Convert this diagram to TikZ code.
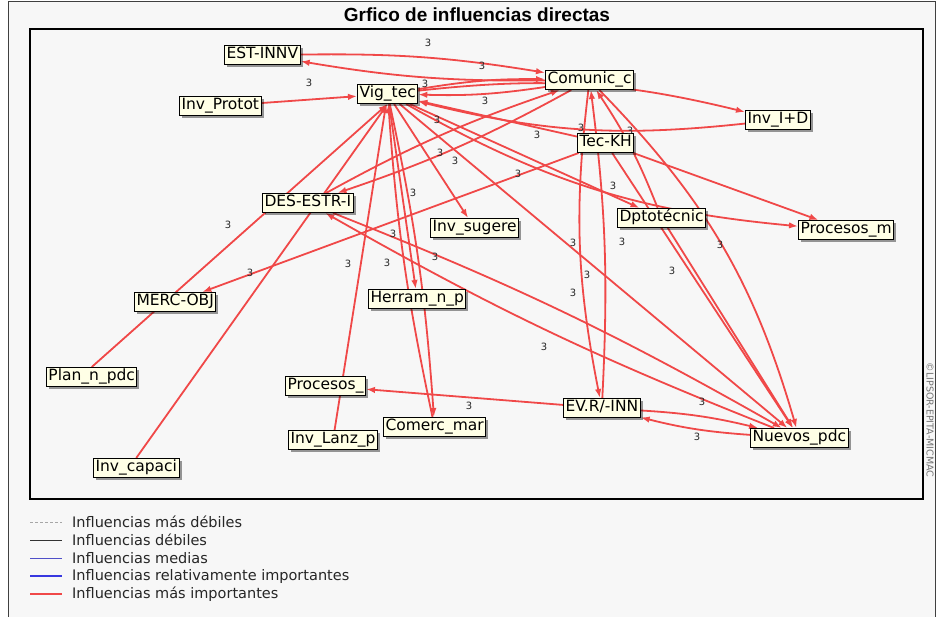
\documentclass[tikz,border=0pt]{standalone}
\usepackage{fontspec}
\setmainfont{DejaVu Sans}
\newfontfamily\titlefont{Liberation Sans}
\usetikzlibrary{arrows.meta,shadows}
\definecolor{edgered}{HTML}{F04848}
\definecolor{boxfill}{HTML}{FFFFE6}
\definecolor{plotbg}{HTML}{F7F7F7}
\definecolor{midblue}{HTML}{5050C8}
\definecolor{strongblue}{HTML}{3838E0}
\pgfdeclarelayer{bg}
\pgfdeclarelayer{edges}
\pgfsetlayers{bg,edges,main}
\begin{document}
\begin{tikzpicture}[x=1pt,y=-1pt,
  var/.style={draw=black,line width=1pt,fill=boxfill,anchor=west,
    inner xsep=2pt,inner ysep=2pt,text height=11.5pt,text depth=3.5pt,
    font=\fontsize{15.5}{17}\selectfont,
    drop shadow={shadow xshift=2.5pt,shadow yshift=-2.5pt,fill=black,opacity=0.4}},
  infl/.style={draw=edgered,line width=1.8pt,-{Latex[length=9pt,width=6.5pt]}},
  wt/.style={font=\fontsize{10}{10}\selectfont,text=black!85,inner sep=0pt},
  leg/.style={font=\fontsize{14.5}{16}\selectfont,anchor=west,inner sep=0pt,text=black!85}
]
\useasboundingbox (0,0) rectangle (938,617);

% page and plot area
\begin{pgfonlayer}{bg}
  \fill[white] (0,0) rectangle (938,617);
  \fill[plotbg] (8,2) rectangle (935,617);
  \draw[black!75,line width=1pt] (8,617) -- (8,2) -- (935,2) -- (935,617);
  \draw[black,line width=1.2pt] (30,29) rectangle (923,499);
\end{pgfonlayer}

\node[font=\titlefont\bfseries\fontsize{19}{21}\selectfont] (title) at (477,15) {Grfico de influencias directas};
\node[rotate=-90,font=\fontsize{9.5}{10}\selectfont,text=black!55,inner sep=0pt] (copy) at (930,420) {\copyright LIPSOR-EPITA-MICMAC};

% variables
\node[var] (est)  at (224,55)  {EST-INNV};
\node[var] (prot) at (179,106) {Inv\_Protot};
\node[var] (vig)  at (357,94)  {Vig\_tec};
\node[var] (com)  at (545,80)  {Comunic\_c};
\node[var] (iid)  at (745,120) {Inv\_I+D};
\node[var] (tec)  at (577,143) {Tec-KH};
\node[var] (des)  at (262,203) {DES-ESTR-I};
\node[var] (sug)  at (430,228) {Inv\_sugere};
\node[var] (dpt)  at (617,218) {Dptotécnic};
\node[var] (prm)  at (798,230) {Procesos\_m};
\node[var] (merc) at (134,302) {MERC-OBJ};
\node[var] (her)  at (368,299) {Herram\_n\_p};
\node[var] (plan) at (46,377)  {Plan\_n\_pdc};
\node[var] (pro)  at (285,386) {Procesos\_};
\node[var] (ev)   at (563,408) {EV.R/-INN};
\node[var] (cm)   at (383,427) {Comerc\_mar};
\node[var] (lanz) at (288,440) {Inv\_Lanz\_p};
\node[var] (nue)  at (750,438) {Nuevos\_pdc};
\node[var] (cap)  at (93,468)  {Inv\_capaci};

% influences
\begin{pgfonlayer}{edges}
  \draw[infl] (est) to[bend left=5] (com);
  \draw[infl] (com) to[bend left=5] (est);
  \draw[infl] (prot) -- (vig);
  \draw[infl] (com) to[bend left=5] (vig);
  \draw[infl] (vig) to[bend left=5] (com);
  \draw[infl] (vig) to[bend left=10] (iid);
  \draw[infl] (iid) to[bend left=10] (vig);
  \draw[infl] (tec) -- (vig);
  \draw[infl] (com) to[bend left=5] (des);
  \draw[infl] (des) to[bend left=5] (com);
  \draw[infl] (vig) -- (dpt);
  \draw[infl] (vig) to[bend right=12] (prm);
  \draw[infl] (tec) -- (prm);
  \draw[infl] (tec) -- (merc);
  \draw[infl] (plan.north) -- (vig.south);
  \draw[infl] (cap.north) -- (vig.south);
  \draw[infl] (lanz) -- (vig);
  \draw[infl] (vig) -- (sug);
  \draw[infl] (vig) -- (her);
  \draw[infl] (vig) to[bend left=4] (cm);
  \draw[infl] (cm) to[bend left=4] (vig);
  \draw[infl] (vig) -- (nue);
  \draw[infl] (des) to[bend left=4] (nue);
  \draw[infl] (nue) to[bend left=4] (des);
  \draw[infl] (com) to[bend right=9] (ev);
  \draw[infl] (ev) to[bend right=5] (com);
  \draw[infl] (dpt) to[bend right=6] (com);
  \draw[infl] (com) to[bend left=14] (nue);
  \draw[infl] (tec) -- (nue);
  \draw[infl] (dpt) -- (nue);
  \draw[infl] (ev) -- (pro);
  \draw[infl] (ev) to[bend left=5] (nue);
  \draw[infl] (nue) to[bend left=5] (ev);
\end{pgfonlayer}

% influence weights
\node[wt] (w01) at (428,43)  {3};
\node[wt] (w02) at (482,66)  {3};
\node[wt] (w03) at (309,83)  {3};
\node[wt] (w04) at (425,84)  {3};
\node[wt] (w05) at (485,101) {3};
\node[wt] (w06) at (437,120) {3};
\node[wt] (w07) at (537,135) {3};
\node[wt] (w08) at (581,128) {3};
\node[wt] (w09) at (630,131) {3};
\node[wt] (w10) at (440,153) {3};
\node[wt] (w11) at (455,161) {3};
\node[wt] (w12) at (518,174) {3};
\node[wt] (w13) at (413,193) {3};
\node[wt] (w14) at (613,186) {3};
\node[wt] (w15) at (228,225) {3};
\node[wt] (w16) at (393,234) {3};
\node[wt] (w17) at (573,243) {3};
\node[wt] (w18) at (622,242) {3};
\node[wt] (w19) at (720,245) {3};
\node[wt] (w20) at (250,273) {3};
\node[wt] (w21) at (348,264) {3};
\node[wt] (w22) at (387,263) {3};
\node[wt] (w23) at (435,257) {3};
\node[wt] (w24) at (672,271) {3};
\node[wt] (w25) at (587,275) {3};
\node[wt] (w26) at (573,293) {3};
\node[wt] (w27) at (544,347) {3};
\node[wt] (w28) at (469,406) {3};
\node[wt] (w29) at (702,402) {3};
\node[wt] (w30) at (697,437) {3};

% legend
\coordinate (l1a) at (30,522); \coordinate (l1b) at (62,522);
\coordinate (l2a) at (30,540); \coordinate (l2b) at (62,540);
\coordinate (l3a) at (30,558); \coordinate (l3b) at (62,558);
\coordinate (l4a) at (30,576); \coordinate (l4b) at (62,576);
\coordinate (l5a) at (30,594); \coordinate (l5b) at (62,594);
\draw[black!35,line width=0.6pt,dash pattern=on 3pt off 2pt] (l1a) -- (l1b);
\draw[black!80,line width=0.7pt] (l2a) -- (l2b);
\draw[midblue,line width=0.9pt] (l3a) -- (l3b);
\draw[strongblue,line width=2pt] (l4a) -- (l4b);
\draw[edgered,line width=2.4pt] (l5a) -- (l5b);
\node[leg] (t1) at (72,522) {Influencias más débiles};
\node[leg] (t2) at (72,540) {Influencias débiles};
\node[leg] (t3) at (72,558) {Influencias medias};
\node[leg] (t4) at (72,576) {Influencias relativamente importantes};
\node[leg] (t5) at (72,594) {Influencias más importantes};
\end{tikzpicture}
\end{document}
